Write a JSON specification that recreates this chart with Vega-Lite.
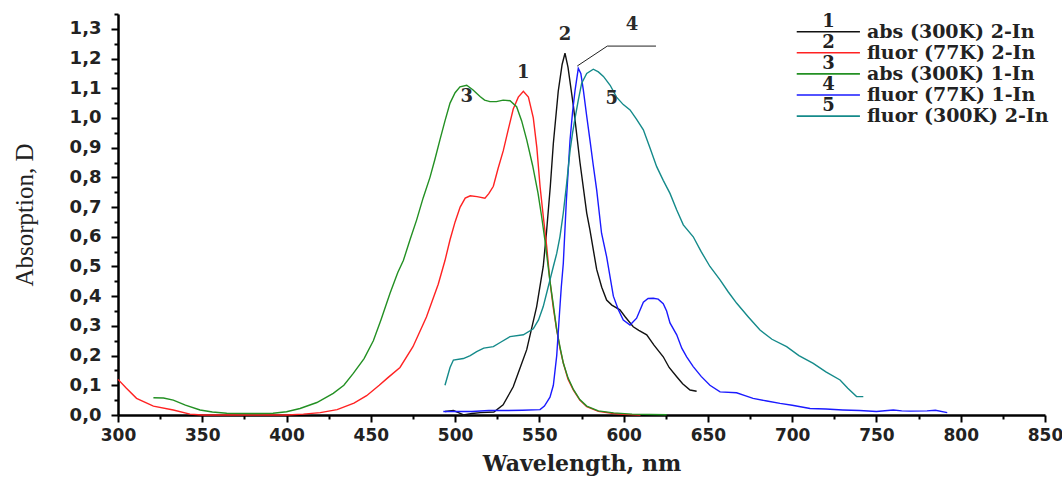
{
  "$schema": "https://vega.github.io/schema/vega-lite/v6.json",
  "width": 927,
  "height": 401,
  "autosize": "none",
  "padding": {"left": 118, "top": 14, "right": 17, "bottom": 62},
  "background": "white",
  "config": {"view": {"stroke": null}},
  "datasets": {
    "curves": [
      {"s":"1","x":494,"y":0.012},{"s":"1","x":499,"y":0.015},{"s":"1","x":502,"y":0.008},{"s":"1","x":505,"y":0.0},{"s":"1","x":510,"y":0.005},{"s":"1","x":515,"y":0.008},{"s":"1","x":523,"y":0.01},{"s":"1","x":528.5,"y":0.034},{"s":"1","x":534.5,"y":0.095},{"s":"1","x":538,"y":0.15},{"s":"1","x":542.5,"y":0.22},{"s":"1","x":548.4,"y":0.365},{"s":"1","x":552.3,"y":0.5},{"s":"1","x":554.3,"y":0.62},{"s":"1","x":556.5,"y":0.77},{"s":"1","x":558.3,"y":0.915},{"s":"1","x":561.2,"y":1.09},{"s":"1","x":563.5,"y":1.18},{"s":"1","x":565.2,"y":1.218},{"s":"1","x":567,"y":1.17},{"s":"1","x":570.2,"y":1.04},{"s":"1","x":574.1,"y":0.85},{"s":"1","x":578.1,"y":0.68},{"s":"1","x":580,"y":0.623},{"s":"1","x":584,"y":0.49},{"s":"1","x":587,"y":0.43},{"s":"1","x":589.9,"y":0.387},{"s":"1","x":593,"y":0.37},{"s":"1","x":597.8,"y":0.354},{"s":"1","x":601,"y":0.33},{"s":"1","x":605.7,"y":0.297},{"s":"1","x":609,"y":0.285},{"s":"1","x":613.7,"y":0.27},{"s":"1","x":618,"y":0.235},{"s":"1","x":623.5,"y":0.196},{"s":"1","x":627,"y":0.16},{"s":"1","x":631.5,"y":0.129},{"s":"1","x":635,"y":0.105},{"s":"1","x":639.4,"y":0.084},{"s":"1","x":643.3,"y":0.08},
      {"s":"2","x":300,"y":0.12},{"s":"2","x":305,"y":0.09},{"s":"2","x":311,"y":0.056},{"s":"2","x":321,"y":0.03},{"s":"2","x":332.8,"y":0.017},{"s":"2","x":342.7,"y":0.003},{"s":"2","x":350,"y":0.0},{"s":"2","x":400,"y":0.0},{"s":"2","x":410,"y":0.003},{"s":"2","x":420,"y":0.008},{"s":"2","x":430,"y":0.018},{"s":"2","x":440,"y":0.04},{"s":"2","x":447.5,"y":0.065},{"s":"2","x":455,"y":0.1},{"s":"2","x":460,"y":0.125},{"s":"2","x":467.3,"y":0.16},{"s":"2","x":475,"y":0.23},{"s":"2","x":483,"y":0.33},{"s":"2","x":490,"y":0.44},{"s":"2","x":494,"y":0.52},{"s":"2","x":497,"y":0.59},{"s":"2","x":500,"y":0.65},{"s":"2","x":503,"y":0.7},{"s":"2","x":506,"y":0.73},{"s":"2","x":509,"y":0.738},{"s":"2","x":513,"y":0.735},{"s":"2","x":517.7,"y":0.73},{"s":"2","x":520,"y":0.745},{"s":"2","x":522.7,"y":0.77},{"s":"2","x":525.5,"y":0.83},{"s":"2","x":528.6,"y":0.89},{"s":"2","x":531.5,"y":0.96},{"s":"2","x":534.5,"y":1.03},{"s":"2","x":537.5,"y":1.07},{"s":"2","x":540.5,"y":1.09},{"s":"2","x":543.5,"y":1.07},{"s":"2","x":546.4,"y":1.0},{"s":"2","x":548.5,"y":0.9},{"s":"2","x":550.4,"y":0.77},{"s":"2","x":552.3,"y":0.67},{"s":"2","x":554.3,"y":0.57},{"s":"2","x":556.3,"y":0.45},{"s":"2","x":558.3,"y":0.36},{"s":"2","x":560.2,"y":0.29},{"s":"2","x":562.2,"y":0.225},{"s":"2","x":564.2,"y":0.175},{"s":"2","x":567,"y":0.12},{"s":"2","x":570.2,"y":0.084},{"s":"2","x":574,"y":0.05},{"s":"2","x":578.1,"y":0.028},{"s":"2","x":585,"y":0.012},{"s":"2","x":594,"y":0.005},{"s":"2","x":600,"y":0.002},{"s":"2","x":610,"y":0.0},
      {"s":"3","x":321,"y":0.058},{"s":"3","x":327,"y":0.057},{"s":"3","x":332.8,"y":0.05},{"s":"3","x":340,"y":0.033},{"s":"3","x":348.7,"y":0.017},{"s":"3","x":356,"y":0.01},{"s":"3","x":364.5,"y":0.006},{"s":"3","x":380,"y":0.005},{"s":"3","x":392,"y":0.006},{"s":"3","x":400,"y":0.011},{"s":"3","x":408,"y":0.022},{"s":"3","x":418,"y":0.042},{"s":"3","x":427.7,"y":0.073},{"s":"3","x":434,"y":0.1},{"s":"3","x":439.6,"y":0.14},{"s":"3","x":446,"y":0.19},{"s":"3","x":451.5,"y":0.25},{"s":"3","x":456,"y":0.32},{"s":"3","x":461.4,"y":0.41},{"s":"3","x":466,"y":0.48},{"s":"3","x":469.3,"y":0.52},{"s":"3","x":473.2,"y":0.589},{"s":"3","x":477.2,"y":0.657},{"s":"3","x":481,"y":0.73},{"s":"3","x":485.1,"y":0.8},{"s":"3","x":488,"y":0.86},{"s":"3","x":491,"y":0.926},{"s":"3","x":494,"y":0.99},{"s":"3","x":497,"y":1.05},{"s":"3","x":500,"y":1.085},{"s":"3","x":502.9,"y":1.105},{"s":"3","x":506.9,"y":1.11},{"s":"3","x":510.5,"y":1.095},{"s":"3","x":514.8,"y":1.072},{"s":"3","x":517.5,"y":1.06},{"s":"3","x":520.7,"y":1.055},{"s":"3","x":524.5,"y":1.055},{"s":"3","x":528.5,"y":1.06},{"s":"3","x":532.6,"y":1.058},{"s":"3","x":536.5,"y":1.038},{"s":"3","x":539.5,"y":0.99},{"s":"3","x":542.5,"y":0.926},{"s":"3","x":546,"y":0.84},{"s":"3","x":549.2,"y":0.747},{"s":"3","x":551.3,"y":0.67},{"s":"3","x":553.3,"y":0.589},{"s":"3","x":556.3,"y":0.45},{"s":"3","x":558.3,"y":0.37},{"s":"3","x":560.2,"y":0.29},{"s":"3","x":562.2,"y":0.23},{"s":"3","x":564.2,"y":0.175},{"s":"3","x":567,"y":0.125},{"s":"3","x":570.2,"y":0.086},{"s":"3","x":574,"y":0.052},{"s":"3","x":578.1,"y":0.03},{"s":"3","x":585,"y":0.014},{"s":"3","x":594,"y":0.007},{"s":"3","x":605,"y":0.003},{"s":"3","x":625.5,"y":0.001},
      {"s":"4","x":493,"y":0.012},{"s":"4","x":500,"y":0.012},{"s":"4","x":510,"y":0.012},{"s":"4","x":520,"y":0.015},{"s":"4","x":530,"y":0.015},{"s":"4","x":540,"y":0.016},{"s":"4","x":550.4,"y":0.018},{"s":"4","x":553,"y":0.03},{"s":"4","x":556.3,"y":0.06},{"s":"4","x":558.3,"y":0.1},{"s":"4","x":560.3,"y":0.2},{"s":"4","x":561.8,"y":0.33},{"s":"4","x":563,"y":0.43},{"s":"4","x":564.2,"y":0.51},{"s":"4","x":566,"y":0.72},{"s":"4","x":568.2,"y":0.926},{"s":"4","x":569.7,"y":1.02},{"s":"4","x":571.2,"y":1.094},{"s":"4","x":573.1,"y":1.167},{"s":"4","x":574.6,"y":1.15},{"s":"4","x":576.1,"y":1.094},{"s":"4","x":578,"y":1.01},{"s":"4","x":580,"y":0.926},{"s":"4","x":582,"y":0.84},{"s":"4","x":584,"y":0.758},{"s":"4","x":586.9,"y":0.612},{"s":"4","x":589.9,"y":0.533},{"s":"4","x":593.9,"y":0.4},{"s":"4","x":596.8,"y":0.355},{"s":"4","x":599.8,"y":0.32},{"s":"4","x":603.8,"y":0.303},{"s":"4","x":607.7,"y":0.326},{"s":"4","x":611.7,"y":0.38},{"s":"4","x":614.5,"y":0.392},{"s":"4","x":617.6,"y":0.393},{"s":"4","x":620.5,"y":0.39},{"s":"4","x":623.5,"y":0.375},{"s":"4","x":625.5,"y":0.35},{"s":"4","x":627.5,"y":0.31},{"s":"4","x":631.5,"y":0.27},{"s":"4","x":634.5,"y":0.225},{"s":"4","x":637.4,"y":0.196},{"s":"4","x":641.3,"y":0.163},{"s":"4","x":646,"y":0.13},{"s":"4","x":651.2,"y":0.1},{"s":"4","x":657.2,"y":0.078},{"s":"4","x":667,"y":0.075},{"s":"4","x":672,"y":0.065},{"s":"4","x":676.8,"y":0.056},{"s":"4","x":685,"y":0.047},{"s":"4","x":692.8,"y":0.039},{"s":"4","x":700,"y":0.033},{"s":"4","x":710.6,"y":0.022},{"s":"4","x":720,"y":0.02},{"s":"4","x":730,"y":0.017},{"s":"4","x":740,"y":0.015},{"s":"4","x":750,"y":0.012},{"s":"4","x":760,"y":0.017},{"s":"4","x":765,"y":0.014},{"s":"4","x":770,"y":0.013},{"s":"4","x":780,"y":0.014},{"s":"4","x":785,"y":0.016},{"s":"4","x":792,"y":0.008},
      {"s":"5","x":494,"y":0.1},{"s":"5","x":497,"y":0.16},{"s":"5","x":499,"y":0.185},{"s":"5","x":504.9,"y":0.19},{"s":"5","x":509,"y":0.2},{"s":"5","x":512.8,"y":0.213},{"s":"5","x":517,"y":0.225},{"s":"5","x":522.7,"y":0.23},{"s":"5","x":527,"y":0.245},{"s":"5","x":532.6,"y":0.264},{"s":"5","x":540.5,"y":0.27},{"s":"5","x":546.4,"y":0.29},{"s":"5","x":549.5,"y":0.32},{"s":"5","x":552.3,"y":0.365},{"s":"5","x":554.3,"y":0.41},{"s":"5","x":556.3,"y":0.455},{"s":"5","x":558.3,"y":0.5},{"s":"5","x":560.3,"y":0.544},{"s":"5","x":562.2,"y":0.6},{"s":"5","x":564.2,"y":0.68},{"s":"5","x":566.2,"y":0.78},{"s":"5","x":568.2,"y":0.89},{"s":"5","x":569.7,"y":0.95},{"s":"5","x":571.2,"y":1.0},{"s":"5","x":573.1,"y":1.06},{"s":"5","x":575.1,"y":1.117},{"s":"5","x":578.1,"y":1.15},{"s":"5","x":582,"y":1.164},{"s":"5","x":585,"y":1.155},{"s":"5","x":588,"y":1.14},{"s":"5","x":592,"y":1.11},{"s":"5","x":595.8,"y":1.07},{"s":"5","x":599.8,"y":1.045},{"s":"5","x":603.8,"y":1.027},{"s":"5","x":607.7,"y":0.995},{"s":"5","x":611.7,"y":0.96},{"s":"5","x":615.6,"y":0.9},{"s":"5","x":619.6,"y":0.836},{"s":"5","x":623.5,"y":0.79},{"s":"5","x":627.5,"y":0.746},{"s":"5","x":631.5,"y":0.69},{"s":"5","x":635.4,"y":0.64},{"s":"5","x":641.3,"y":0.6},{"s":"5","x":646,"y":0.55},{"s":"5","x":651.2,"y":0.5},{"s":"5","x":657.2,"y":0.455},{"s":"5","x":662,"y":0.415},{"s":"5","x":667.1,"y":0.376},{"s":"5","x":674,"y":0.33},{"s":"5","x":680.9,"y":0.286},{"s":"5","x":688,"y":0.255},{"s":"5","x":696.7,"y":0.23},{"s":"5","x":704,"y":0.2},{"s":"5","x":712.5,"y":0.174},{"s":"5","x":720,"y":0.145},{"s":"5","x":728.4,"y":0.118},{"s":"5","x":733,"y":0.09},{"s":"5","x":738.2,"y":0.062},{"s":"5","x":742.2,"y":0.062}
    ],
    "notes": [
      {"t":"1","x":540.5,"y":1.153},
      {"t":"2","x":565.2,"y":1.279},
      {"t":"3","x":506.9,"y":1.072},
      {"t":"4","x":605,"y":1.313},
      {"t":"5","x":592.9,"y":1.063}
    ],
    "leader": [
      {"x":572.5,"y":1.175},
      {"x":590.3,"y":1.242},
      {"x":619.2,"y":1.242}
    ],
    "legend": [
      {"o":1,"s":"1","label":"abs (300K) 2-In"},
      {"o":2,"s":"2","label":"fluor (77K) 2-In"},
      {"o":3,"s":"3","label":"abs (300K) 1-In"},
      {"o":4,"s":"4","label":"\u00a0fluor (77K) 1-In"},
      {"o":5,"s":"5","label":"fluor (300K) 2-In"}
    ]
  },
  "layer": [
    {
      "layer": [
        {
          "data": {"name": "curves"},
          "mark": {"type": "line", "strokeWidth": 1.4, "interpolate": "linear"},
          "encoding": {
            "x": {
              "field": "x", "type": "quantitative",
              "scale": {"domain": [300, 850], "nice": false, "zero": false},
              "axis": {
                "title": "Wavelength, nm",
                "values": [300,325,350,375,400,425,450,475,500,525,550,575,600,625,650,675,700,725,750,775,800,825,850],
                "tickCount": 200,
                "labelExpr": "datum.value % 50 == 0 ? datum.label : ''",
                "tickSize": {"condition": {"test": "datum.value % 50 == 0", "value": 7}, "value": 4},
                "grid": false,
                "domainColor": "black", "domainWidth": 2.5,
                "tickColor": "black", "tickWidth": 2,
                "labelFont": "DejaVu Sans", "labelFontSize": 17, "labelFontWeight": "bold", "labelColor": "#222",
                "labelPadding": 5, "labelFlush": false, "labelOverlap": false,
                "titleFont": "DejaVu Serif", "titleFontSize": 22, "titleFontWeight": "bold", "titleColor": "#222",
                "titlePadding": 10
              }
            },
            "y": {
              "field": "y", "type": "quantitative",
              "scale": {"domain": [0, 1.35], "nice": false, "zero": true},
              "axis": {
                "title": "Absorption, D",
                "values": [0,0.05,0.1,0.15,0.2,0.25,0.3,0.35,0.4,0.45,0.5,0.55,0.6,0.65,0.7,0.75,0.8,0.85,0.9,0.95,1.0,1.05,1.1,1.15,1.2,1.25,1.3,1.35],
                "tickCount": 200,
                "labelExpr": "round(datum.value*20) % 2 == 0 ? replace(format(datum.value, '.1f'), '.', ',') : ''",
                "tickSize": {"condition": {"test": "round(datum.value*20) % 2 == 0", "value": 7}, "value": 4},
                "grid": false,
                "domainColor": "black", "domainWidth": 2.5,
                "tickColor": "black", "tickWidth": 2,
                "labelFont": "DejaVu Sans", "labelFontSize": 18, "labelFontWeight": "bold", "labelColor": "#222",
                "labelPadding": 10, "labelFlush": false, "labelOverlap": false,
                "titleFont": "Liberation Serif", "titleFontSize": 25, "titleFontWeight": "normal", "titleColor": "#222",
                "titlePadding": 32
              }
            },
            "color": {
              "field": "s", "type": "nominal",
              "scale": {"domain": ["1","2","3","4","5"], "range": ["#111111","#ff2222","#239023","#1a1aff","#148a8a"]},
              "legend": null
            },
            "detail": {"field": "s"}
          }
        },
        {
          "data": {"name": "leader"},
          "mark": {"type": "line", "color": "#222", "strokeWidth": 1},
          "encoding": {
            "x": {"field": "x", "type": "quantitative"},
            "y": {"field": "y", "type": "quantitative"}
          }
        },
        {
          "data": {"name": "notes"},
          "mark": {"type": "text", "font": "DejaVu Serif", "fontSize": 18, "fontWeight": "bold", "color": "#2a2a2a", "baseline": "middle", "align": "center"},
          "encoding": {
            "x": {"field": "x", "type": "quantitative"},
            "y": {"field": "y", "type": "quantitative"},
            "text": {"field": "t"}
          }
        }
      ]
    },
    {
      "data": {"name": "legend"},
      "encoding": {
        "y": {"field": "o", "type": "quantitative", "scale": {"domain": [0.161, 19.17], "reverse": true, "nice": false, "zero": false}, "axis": null}
      },
      "layer": [
        {
          "mark": {"type": "rule", "strokeWidth": 1.6},
          "encoding": {
            "x": {"datum": 702.7},
            "x2": {"datum": 740.2},
            "color": {"field": "s", "type": "nominal", "legend": null}
          }
        },
        {
          "mark": {"type": "text", "font": "DejaVu Serif", "fontSize": 18, "fontWeight": "bold", "color": "#222", "baseline": "middle", "align": "center", "dy": -10},
          "encoding": {
            "x": {"datum": 721.5},
            "text": {"field": "s"}
          }
        },
        {
          "mark": {"type": "text", "font": "DejaVu Serif", "fontSize": 19, "fontWeight": "bold", "color": "#222", "baseline": "middle", "align": "left"},
          "encoding": {
            "x": {"datum": 744.4},
            "text": {"field": "label"}
          }
        }
      ]
    }
  ],
  "resolve": {"scale": {"y": "independent"}}
}
